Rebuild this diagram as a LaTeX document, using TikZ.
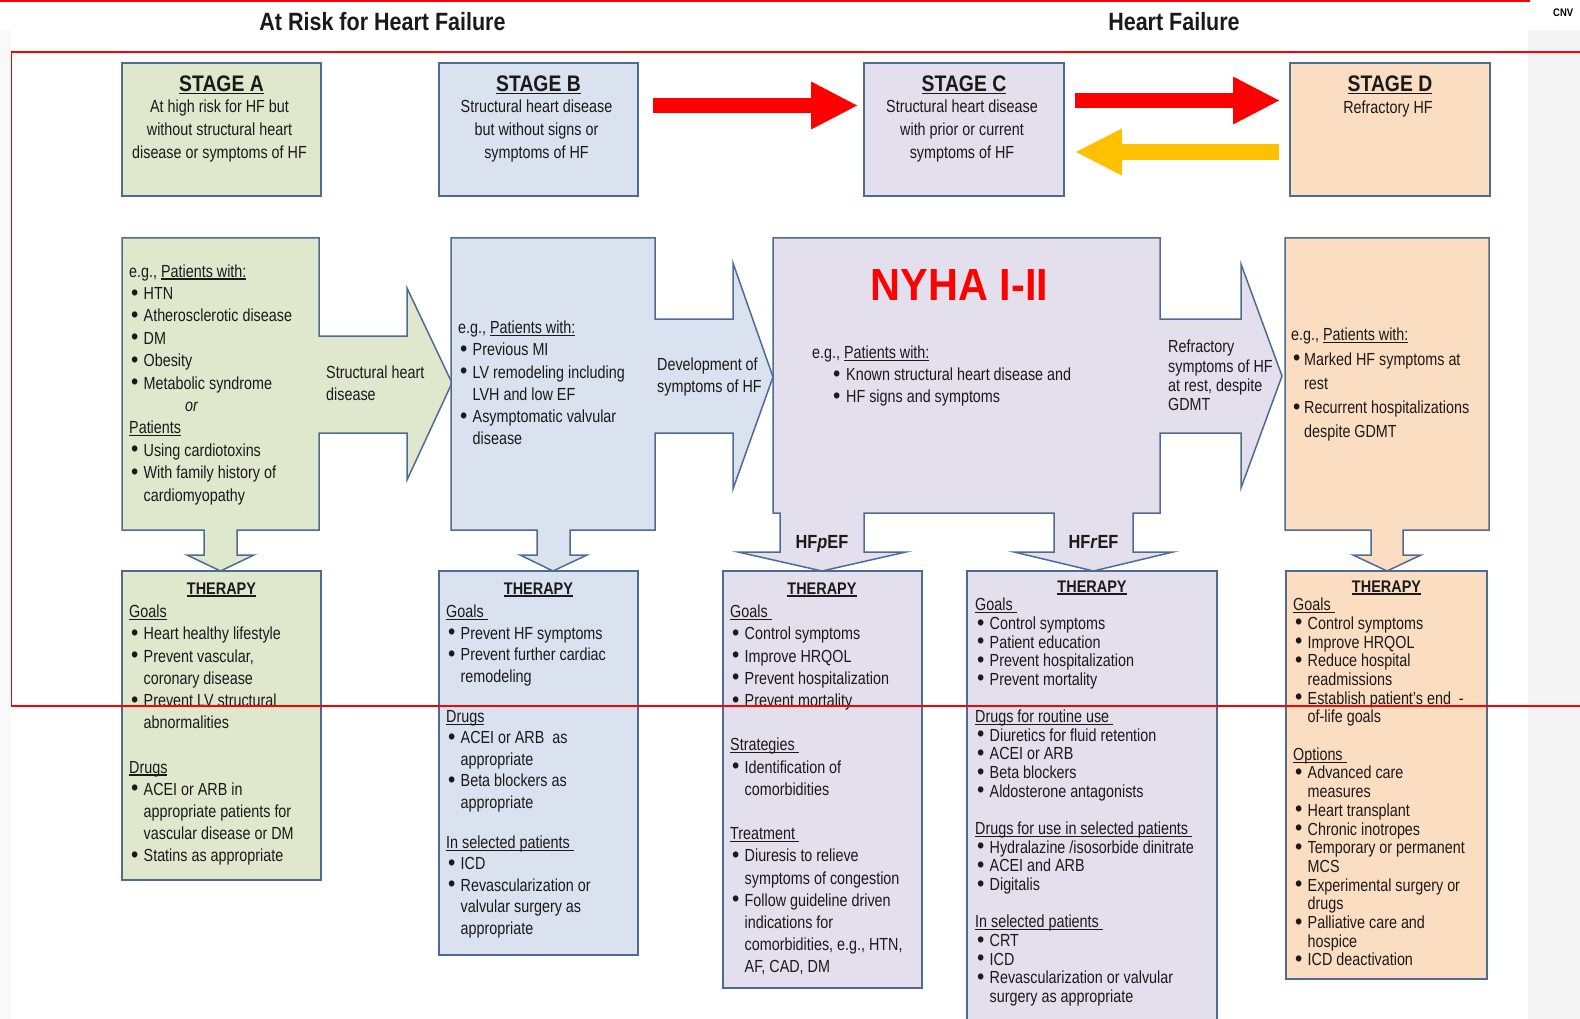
\documentclass[tikz,border=0pt]{standalone}
\usepackage{fontspec}
\setmainfont{Liberation Sans}[FakeStretch=0.82]
\newfontfamily\hfont{Liberation Sans}[FakeStretch=0.86]
\newfontfamily\nyfont{Liberation Sans}[FakeStretch=0.92]
\usetikzlibrary{arrows.meta,calc}
\definecolor{cA}{RGB}{223,232,205}
\definecolor{cB}{RGB}{218,226,239}
\definecolor{cC}{RGB}{228,223,236}
\definecolor{cD}{RGB}{251,221,193}
\definecolor{bd}{RGB}{79,107,148}
\definecolor{tx}{RGB}{26,26,26}
\definecolor{yel}{RGB}{255,192,0}
\newsavebox\ulbox
\newcommand\ul[1]{\sbox\ulbox{#1}\rlap{\rule[-2.4pt]{\wd\ulbox}{1.1pt}}\usebox\ulbox}
\newcommand\ulb[1]{\sbox\ulbox{#1}\rlap{\rule[-2.8pt]{\wd\ulbox}{1.5pt}}\usebox\ulbox}
\newcommand\bul{\raisebox{-0.6pt}{\scalebox{1.45}[1.3]{\textbullet}}}
\newcommand\bi{\hspace*{2pt}\makebox[12.5pt][l]{\bul}}
\newcommand\ci{\hspace*{14.5pt}}
\newcommand\fsz[2]{\fontsize{#1}{#2}\selectfont}
\tikzset{
  box/.style={draw=bd, line width=1.5pt, inner sep=0pt, outer sep=0pt, anchor=north west},
  blk/.style={draw=bd, line width=1.5pt, line join=miter},
  body/.style={inner sep=0pt, anchor=north west, align=left, text=tx},
  ctr/.style={inner sep=0pt, anchor=north, align=center, text=tx},
  hd/.style={inner sep=0pt, anchor=base, text=tx, font=\hfont\bfseries\fsz{16.8}{20}},
  sthd/.style={inner sep=0pt, anchor=base, text=tx, font=\hfont\bfseries\fsz{22.5}{26}},
  ttl/.style={inner sep=0pt, anchor=base, text=tx, font=\hfont\bfseries\fsz{25}{30}},
}
\begin{document}
\begin{tikzpicture}[x=1pt,y=-1pt]
\useasboundingbox (0,0) rectangle (1580,1019);
\clip (0,0) rectangle (1580,1019);
% background strips
\fill[gray!9] (1528,30) rectangle (1580,1019);
\fill[gray!5] (0,30) rectangle (11,1019);
\node[inner sep=0pt, anchor=base west, font=\hfont\bfseries\fsz{11}{13}] (cnv) at (1553,17) {CNV};

% titles
\node[ttl] (t1) at (382.5,31) {At Risk for Heart Failure};
\node[ttl] (t2) at (1174,31) {Heart Failure};

% stage boxes
\node[box, fill=cA, minimum width=199pt, minimum height=133pt] (sA) at (122,63) {};
\node[box, fill=cB, minimum width=199pt, minimum height=133pt] (sB) at (439,63) {};
\node[box, fill=cC, minimum width=200pt, minimum height=133pt] (sC) at (864,63) {};
\node[box, fill=cD, minimum width=200pt, minimum height=133pt] (sD) at (1290,63) {};

\node[sthd] (sAh) at (221.5,91.5) {\ulb{STAGE A}};
\node[sthd] (sBh) at (538.5,91.5) {\ulb{STAGE B}};
\node[sthd] (sCh) at (964,91.5) {\ulb{STAGE C}};
\node[sthd] (sDh) at (1390,91.5) {\ulb{STAGE D}};

\node[ctr, font=\fsz{17.5}{23}] (sAd) at (219.5,95.9) {\strut At high risk for HF but\\without structural heart\\disease or symptoms of HF};
\node[ctr, font=\fsz{17.5}{23}] (sBd) at (536.5,95.9) {\strut Structural heart disease\\but without signs or\\symptoms of HF};
\node[ctr, font=\fsz{17.5}{23}] (sCd) at (962,95.9) {\strut Structural heart disease\\with prior or current\\symptoms of HF};
\node[ctr, font=\fsz{17.5}{23}] (sDd) at (1388,97) {\strut Refractory HF};

% arrows between stages
\draw[red, line width=15pt, -{Triangle[length=46pt,width=48pt,line width=0pt]}] ($(sB.east)+(15,-24)$) -- ($(sC.west)+(-7,-24)$);
\draw[red, line width=15pt, -{Triangle[length=46pt,width=48pt,line width=0pt]}] ($(sC.east)+(11,-29)$) -- ($(sD.west)+(-11,-29)$);
\draw[yel, line width=16pt, -{Triangle[length=46pt,width=47pt,line width=0pt]}] ($(sD.west)+(-11,22.5)$) -- ($(sC.east)+(12,22.5)$);

% middle blocks
\draw[blk, fill=cA] (122,238) -- (319,238) -- (319,336) -- (407,336) -- (407,288) -- (452,383) -- (407,480) -- (407,433) -- (319,433) -- (319,530) -- (237,530) -- (237,555) -- (254,555) -- (220.5,571) -- (187,555) -- (204,555) -- (204,530) -- (122,530) -- cycle;
\draw[blk, fill=cB] (451,238) -- (655,238) -- (655,319) -- (733,319) -- (733,263) -- (773,377) -- (733,489) -- (733,433) -- (655,433) -- (655,530) -- (570,530) -- (570,555) -- (587,555) -- (553,571) -- (520,555) -- (537,555) -- (537,530) -- (451,530) -- cycle;
\draw[blk, fill=cC] (773,238) -- (1160,238) -- (1160,319) -- (1241,319) -- (1241,264) -- (1282,376) -- (1241,488) -- (1241,433) -- (1160,433) -- (1160,513) -- (1133,513) -- (1133,552) -- (1173,552) -- (1093.5,571) -- (1014,552) -- (1054,552) -- (1054,513) -- (864,513) -- (864,552) -- (906,552) -- (822,571) -- (738,552) -- (780,552) -- (780,513) -- (773,513) -- cycle;
\draw[blk, fill=cD] (1285,238) -- (1489,238) -- (1489,530) -- (1403,530) -- (1403,555) -- (1421,555) -- (1387,571) -- (1353,555) -- (1371,555) -- (1371,530) -- (1285,530) -- cycle;

% middle texts
\node[body, font=\fsz{17.5}{22.4}] (mAt) at (129,261.3) {\strut e.g., \ul{Patients with:}\\
\bi HTN\\
\bi Atherosclerotic disease\\
\bi DM\\
\bi Obesity\\
\bi Metabolic syndrome\\
\hspace*{56pt}\textit{or}\\
\ul{Patients}\\
\bi Using cardiotoxins\\
\bi With family history of\\
\ci cardiomyopathy};
\node[body, font=\fsz{17.5}{22}] (mAl) at (326,363.1) {\strut Structural heart\\disease};

\node[body, font=\fsz{17.5}{22.2}] (mBt) at (458,318) {\strut e.g., \ul{Patients with:}\\
\bi Previous MI\\
\bi LV remodeling including\\
\ci LVH and low EF\\
\bi Asymptomatic valvular\\
\ci disease};
\node[body, font=\fsz{17.5}{22}] (mBl) at (657,355.1) {\strut Development of\\symptoms of HF};

\node[inner sep=0pt, anchor=base, text=red, font=\nyfont\bfseries\fsz{45}{50}] (nyha) at (959.5,301) {NYHA I-II};
\node[body, font=\fsz{17.5}{22}] (mCt) at (812,343.1) {\strut e.g., \ul{Patients with:}\\
\hspace*{21pt}\makebox[13pt][l]{\bul}Known structural heart disease and\\
\hspace*{21pt}\makebox[13pt][l]{\bul}HF signs and symptoms};
\node[body, font=\fsz{17.5}{19.3}] (mCl) at (1168,339) {\strut Refractory\\symptoms of HF\\at rest, despite\\GDMT};

\node[body, font=\fsz{17.5}{24.3}] (mDt) at (1291,323.5) {\strut e.g., \ul{Patients with:}\\
\hspace*{2pt}\makebox[11pt][l]{\bul}Marked HF symptoms at\\
\hspace*{13pt}rest\\
\hspace*{2pt}\makebox[11pt][l]{\bul}Recurrent hospitalizations\\
\hspace*{13pt}despite GDMT};

\node[inner sep=0pt, anchor=base, text=tx, font=\hfont\bfseries\fsz{19}{22}] (hfp) at (822,548.5) {HF\textit{p}EF};
\node[inner sep=0pt, anchor=base, text=tx, font=\hfont\bfseries\fsz{19}{22}] (hfr) at (1093.5,548.5) {HF\textit{r}EF};

% therapy boxes
\node[box, fill=cA, minimum width=199pt, minimum height=309pt] (tA) at (122,571) {};
\node[box, fill=cB, minimum width=199pt, minimum height=384pt] (tB) at (439,571) {};
\node[box, fill=cC, minimum width=199pt, minimum height=417pt] (tC1) at (723,571) {};
\node[box, fill=cC, minimum width=250pt, minimum height=470pt] (tC2) at (967,571) {};
\node[box, fill=cD, minimum width=201pt, minimum height=408pt] (tD) at (1286,571) {};

\node[hd] (tAh) at (221.5,594) {\ulb{THERAPY}};
\node[hd] (tBh) at (538.5,594) {\ulb{THERAPY}};
\node[hd] (tC1h) at (822,594) {\ulb{THERAPY}};
\node[hd] (tC2h) at (1092,592) {\ulb{THERAPY}};
\node[hd] (tDh) at (1386.5,592) {\ulb{THERAPY}};

\node[body, font=\fsz{17.5}{22.2}] (tAb) at (129,602) {\strut\ul{Goals}\\
\bi Heart healthy lifestyle\\
\bi Prevent vascular,\\
\ci coronary disease\\
\bi Prevent LV structural\\
\ci abnormalities\\
\mbox{}\\
\ul{Drugs}\\
\bi ACEI or ARB in\\
\ci appropriate patients for\\
\ci vascular disease or DM\\
\bi Statins as appropriate};

\node[body, font=\fsz{17.5}{21.5}] (tBb) at (446,602.5) {\strut\ul{Goals\ }\\
\bi Prevent HF symptoms\\
\bi Prevent further cardiac\\
\ci remodeling\\[18.5pt]
\ul{Drugs}\\
\bi ACEI or ARB\ \ as\\
\ci appropriate\\
\bi Beta blockers as\\
\ci appropriate\\[18.5pt]
\ul{In selected patients\ }\\
\bi ICD\\
\bi Revascularization or\\
\ci valvular surgery as\\
\ci appropriate};

\node[body, font=\fsz{17.5}{22.2}] (tC1b) at (730,602) {\strut\ul{Goals\ }\\
\bi Control symptoms\\
\bi Improve HRQOL\\
\bi Prevent hospitalization\\
\bi Prevent mortality\\
\mbox{}\\
\ul{Strategies\ }\\
\bi Identification of\\
\ci comorbidities\\
\mbox{}\\
\ul{Treatment\ }\\
\bi Diuresis to relieve\\
\ci symptoms of congestion\\
\bi Follow guideline driven\\
\ci indications for\\
\ci comorbidities, e.g., HTN,\\
\ci AF, CAD, DM};

\node[body, font=\fsz{17.5}{18.65}] (tC2b) at (975,597.5) {\strut\ul{Goals\ }\\
\bi Control symptoms\\
\bi Patient education\\
\bi Prevent hospitalization\\
\bi Prevent mortality\\
\mbox{}\\
\ul{Drugs for routine use\ }\\
\bi Diuretics for fluid retention\\
\bi ACEI or ARB\\
\bi Beta blockers\\
\bi Aldosterone antagonists\\
\mbox{}\\
\ul{Drugs for use in selected patients\ }\\
\bi Hydralazine /isosorbide dinitrate\\
\bi ACEI and ARB\\
\bi Digitalis\\
\mbox{}\\
\ul{In selected patients\ }\\
\bi CRT\\
\bi ICD\\
\bi Revascularization or valvular\\
\ci surgery as appropriate};

\node[body, font=\fsz{17.5}{18.7}] (tDb) at (1293,597.4) {\strut\ul{Goals\ }\\
\bi Control symptoms\\
\bi Improve HRQOL\\
\bi Reduce hospital\\
\ci readmissions\\
\bi Establish patient’s end\ \ -\\
\ci of-life goals\\
\mbox{}\\
\ul{Options\ }\\
\bi Advanced care\\
\ci measures\\
\bi Heart transplant\\
\bi Chronic inotropes\\
\bi Temporary or permanent\\
\ci MCS\\
\bi Experimental surgery or\\
\ci drugs\\
\bi Palliative care and\\
\ci hospice\\
\bi ICD deactivation};

% red frame lines
\draw[red, line width=1.5pt] (0,1) -- (1530,1);
\draw[red, line width=1.5pt] (1600,52) -- (11.5,52) -- (11.5,706) -- (1600,706);
\end{tikzpicture}
\end{document}
